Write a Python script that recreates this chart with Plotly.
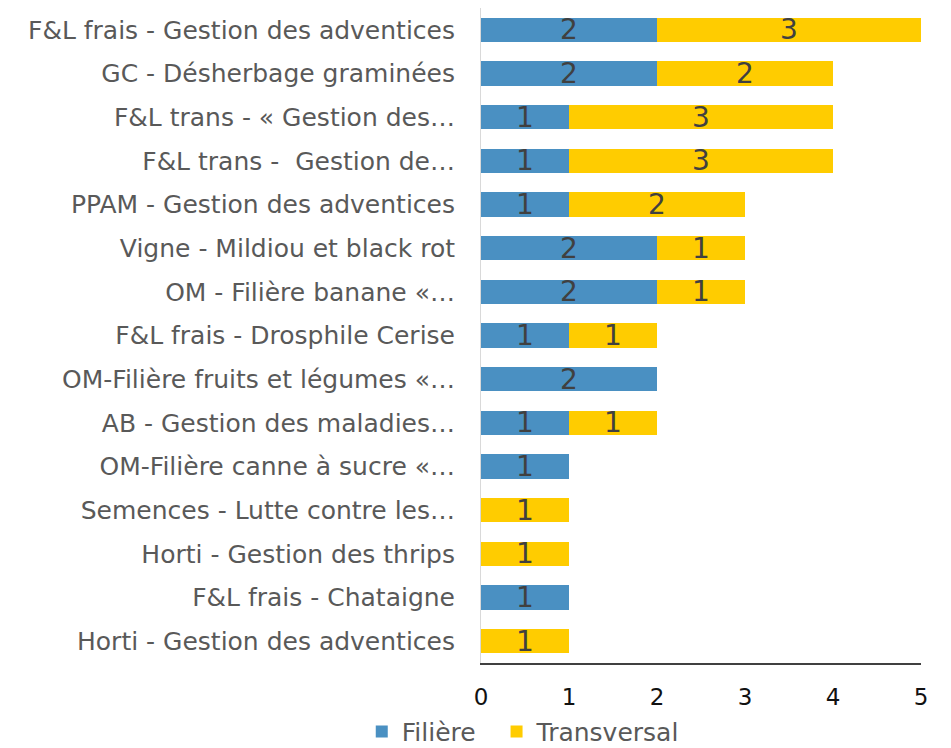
import plotly.graph_objects as go

categories = [
    "F&L frais - Gestion des adventices",
    "GC - Désherbage graminées",
    "F&L trans - « Gestion des…",
    "F&L trans -  Gestion de…",
    "PPAM - Gestion des adventices",
    "Vigne - Mildiou et black rot",
    "OM - Filière banane «…",
    "F&L frais - Drosphile Cerise",
    "OM-Filière fruits et légumes «…",
    "AB - Gestion des maladies…",
    "OM-Filière canne à sucre «…",
    "Semences - Lutte contre les…",
    "Horti - Gestion des thrips",
    "F&L frais - Chataigne",
    "Horti - Gestion des adventices",
]
filiere = [2, 2, 1, 1, 1, 2, 2, 1, 2, 1, 1, 0, 0, 1, 0]
transversal = [3, 2, 3, 3, 2, 1, 1, 1, 0, 1, 0, 1, 1, 0, 1]
x_ticks = [0, 1, 2, 3, 4, 5]
series_names = ["Filière", "Transversal"]

FONT = "DejaVu Sans"

def txt(vals):
    return [str(v) if v else "" for v in vals]

fig = go.Figure()
for name, vals, color in [(series_names[0] + "\u00a0\u00a0", filiere, "#4a90c2"),
                          (series_names[1], transversal, "#ffcc00")]:
    fig.add_trace(go.Bar(
        y=categories, x=vals, orientation="h", name=name,
        marker=dict(color=color, line=dict(width=0)),
        text=txt(vals), textposition="inside", insidetextanchor="middle",
        textangle=0,
        textfont=dict(family=FONT, size=28, color="#404040"),
        constraintext="none",
    ))

fig.update_layout(
    barmode="stack",
    bargap=0.45,
    width=943, height=740,
    paper_bgcolor="white", plot_bgcolor="white",
    margin=dict(l=473, r=30, t=0, b=85, autoexpand=False),
    font=dict(family=FONT, color="#595959"),
    legend=dict(
        orientation="h", x=-0.271, xanchor="left", y=-0.105, yanchor="middle",
        font=dict(family=FONT, size=25, color="#595959"),
        traceorder="normal",
    ),
    showlegend=True,
)
fig.update_xaxes(
    range=[0, 5], tickvals=x_ticks, showgrid=False, zeroline=False,
    showline=True, linecolor="#404040", linewidth=2,
    tickfont=dict(family=FONT, size=23, color="#111111"),
    ticks="", ticklabelstandoff=12, automargin=False,
)
fig.update_yaxes(
    categoryorder="array", categoryarray=categories[::-1],
    showgrid=False, zeroline=False,
    showline=True, linecolor="#d9d9d9", linewidth=1,
    tickfont=dict(family=FONT, size=25, color="#595959"),
    ticks="", ticklabelstandoff=20, automargin=False,
)

fig.write_html("out.html")
